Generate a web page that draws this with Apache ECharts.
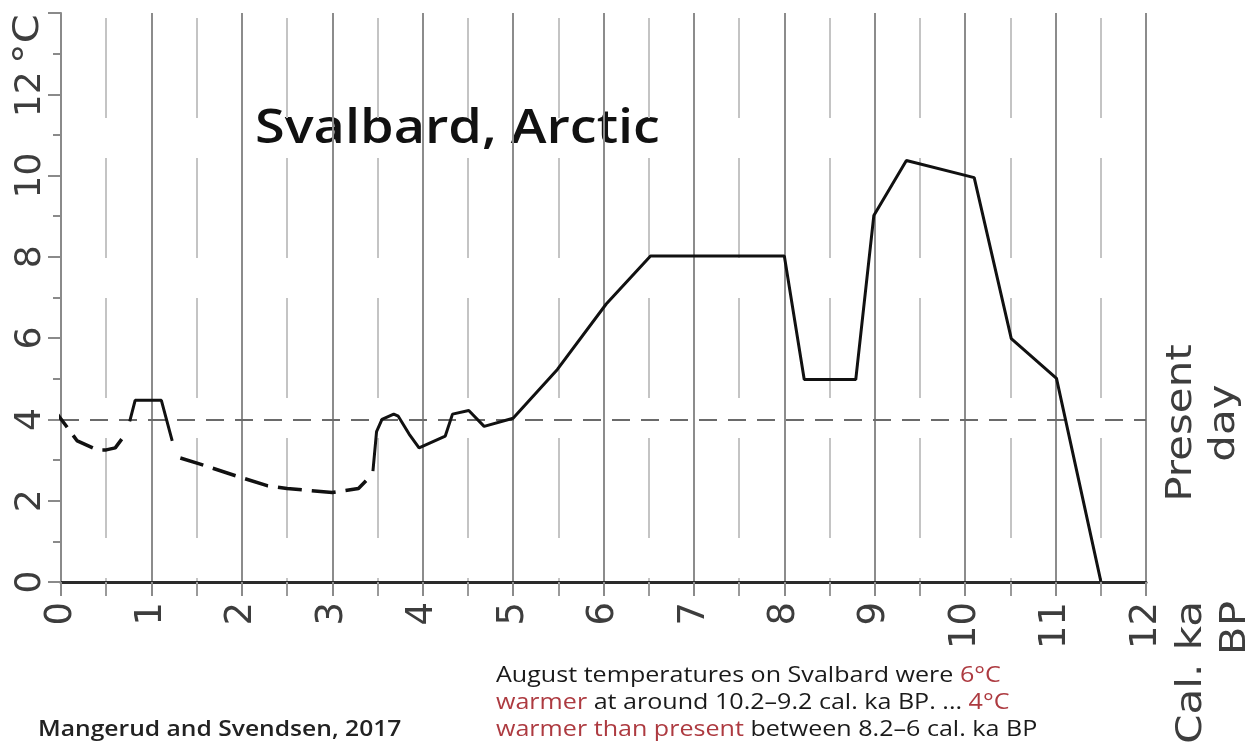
<!DOCTYPE html>
<html>
<head>
<meta charset="utf-8">
<script src="https://cdn.jsdelivr.net/npm/echarts@6/dist/echarts.min.js"></script>
<style>
  html, body { margin: 0; padding: 0; background: #fff; }
  #container { width: 1253px; height: 751px; }
</style>
</head>
<body>
<div id="container"></div>
<script>
// 年代 (cal. ka BP) 与 8月气温 (°C)
const dashA_x = [-0.09, 0.18, 0.4, 0.5, 0.6, 0.7];
const dashA_y = [4.28, 3.47, 3.25, 3.25, 3.3, 3.6];
const solidA_x = [0.76, 0.82, 1.11, 1.23];
const solidA_y = [3.95, 4.47, 4.47, 3.47];
const dashB_x = [1.32, 1.54, 1.95, 2.28, 2.5, 3.0, 3.29, 3.42];
const dashB_y = [3.05, 2.9, 2.6, 2.37, 2.3, 2.2, 2.3, 2.6];
const solidB_x = [3.45, 3.49, 3.55, 3.68, 3.73, 3.85, 3.96, 4.25, 4.33, 4.51, 4.68, 5.0,
                  5.49, 6.03, 6.52, 8.0, 8.22, 8.79, 8.99, 9.35, 10.1, 10.51, 11.01, 11.5];
const solidB_y = [2.73, 3.7, 4.0, 4.13, 4.08, 3.64, 3.3, 3.59, 4.13, 4.22, 3.83, 4.03,
                  5.23, 6.84, 8.02, 8.02, 4.98, 4.98, 9.02, 10.37, 9.95, 5.99, 5.01, 0.02];
const presentDay = 4;
const xTicks = [0, 12, 1];   // min, max, interval
const yTicks = [0, 14, 2];

function pairs(xs, ys) {
    return xs.map((x, i) => [x, ys[i]]);
}

const dom = document.getElementById("container");
const myChart = echarts.init(dom);
const labelFont = "'DejaVu Sans', Verdana, sans-serif";
const textFont = "'Open Sans', 'Noto Sans', sans-serif";
const red = '#ad3a40';

const option = {
    animation: false,
    backgroundColor: '#fff',
    grid: { left: 61, right: 107, top: 13, bottom: 169, containLabel: false, outerBoundsMode: 'none' },
    xAxis: {
        type: 'value',
        min: xTicks[0], max: xTicks[1], interval: xTicks[2],
        axisLine: { show: true, onZero: false, lineStyle: { color: '#2a2a2a', width: 3 } },
        axisTick: { show: true, length: 14, lineStyle: { color: '#8a8a8a', width: 2 } },
        minorTick: { show: true, splitNumber: 2, length: 14, lineStyle: { color: '#9a9a9a', width: 2 } },
        splitLine: { show: true, lineStyle: { color: '#8c8c8c', width: 2 } },
        minorSplitLine: { show: true, lineStyle: { color: '#c4c4c4', width: 2, type: [100, 40], dashOffset: 135 } },
        axisLabel: {
            rotate: 90, margin: 20, fontSize: 37, fontFamily: labelFont, color: '#3d3d3d'
        }
    },
    yAxis: {
        type: 'value',
        min: yTicks[0], max: yTicks[1], interval: yTicks[2],
        axisLine: { show: true, lineStyle: { color: '#8a8a8a', width: 2 } },
        axisTick: { show: true, length: 13, lineStyle: { color: '#8a8a8a', width: 2 } },
        minorTick: { show: true, splitNumber: 2, length: 8, lineStyle: { color: '#8a8a8a', width: 2 } },
        splitLine: { show: false },
        axisLabel: {
            rotate: 90, margin: 12, fontSize: 36, fontFamily: labelFont, color: '#3d3d3d',
            formatter: v => (v === yTicks[1] ? '' : String(v))
        }
    },
    series: [
        {
            type: 'line', data: pairs(dashA_x, dashA_y), symbol: 'none', clip: false,
            lineStyle: { color: '#111', width: 3.5, type: [24, 10] }, z: 5
        },
        {
            type: 'line', data: pairs(solidA_x, solidA_y), symbol: 'none',
            lineStyle: { color: '#111', width: 3 }, z: 5
        },
        {
            type: 'line', data: pairs(dashB_x, dashB_y), symbol: 'none',
            lineStyle: { color: '#111', width: 3.5, type: [24, 10] }, z: 5
        },
        {
            type: 'line', data: pairs(solidB_x, solidB_y), symbol: 'none',
            lineStyle: { color: '#111', width: 3 }, z: 5,
            markLine: {
                silent: true, symbol: 'none', label: { show: false },
                lineStyle: { color: '#6a6a6a', width: 2, type: [18, 11] },
                data: [{ yAxis: presentDay }]
            }
        }
    ],
    graphic: [
        {   // 标题
            type: 'text', x: 255, y: 106, scaleX: 1.15,
            style: { text: 'Svalbard, Arctic', font: "600 47px " + textFont, fill: '#111', textAlign: 'left', textVerticalAlign: 'top' }
        },
        {   // °C
            type: 'text', x: 29, y: 64, rotation: Math.PI / 2, scaleX: 1.15,
            style: { text: '°C', font: "36px " + labelFont, fill: '#3d3d3d', textAlign: 'left', textVerticalAlign: 'middle' }
        },
        {   // Present day
            type: 'text', x: 1203, y: 423, rotation: Math.PI / 2, scaleX: 1.2,
            style: { text: 'Present\nday', font: "35px " + labelFont, lineHeight: 43, fill: '#3d3d3d', textAlign: 'center', textVerticalAlign: 'middle' }
        },
        {   // Cal. ka BP
            type: 'text', x: 1214, y: 601, rotation: Math.PI / 2, scaleX: 1.2,
            style: { text: 'Cal. ka\nBP', font: "35px " + labelFont, lineHeight: 44, fill: '#3d3d3d', textAlign: 'right', textVerticalAlign: 'middle' }
        },
        {   // 文献
            type: 'text', x: 38, y: 741, scaleX: 1.12,
            style: { text: 'Mangerud and Svendsen, 2017', font: "600 22px " + textFont, fill: '#222', textAlign: 'left', textVerticalAlign: 'bottom' }
        },
        {   // 说明
            type: 'text', x: 496, y: 662, scaleX: 1.14,
            style: {
                text: 'August temperatures on Svalbard were {r|6°C}\n{r|warmer} at around 10.2–9.2 cal. ka BP. ... {r|4°C}\n{r|warmer than present} between 8.2–6 cal. ka BP',
                font: "500 22px " + textFont, lineHeight: 27, fill: '#1a1a1a', textAlign: 'left', textVerticalAlign: 'top',
                rich: { r: { fill: red, font: "500 22px " + textFont } }
            }
        }
    ]
};

myChart.setOption(option, true);
</script>
</body>
</html>
